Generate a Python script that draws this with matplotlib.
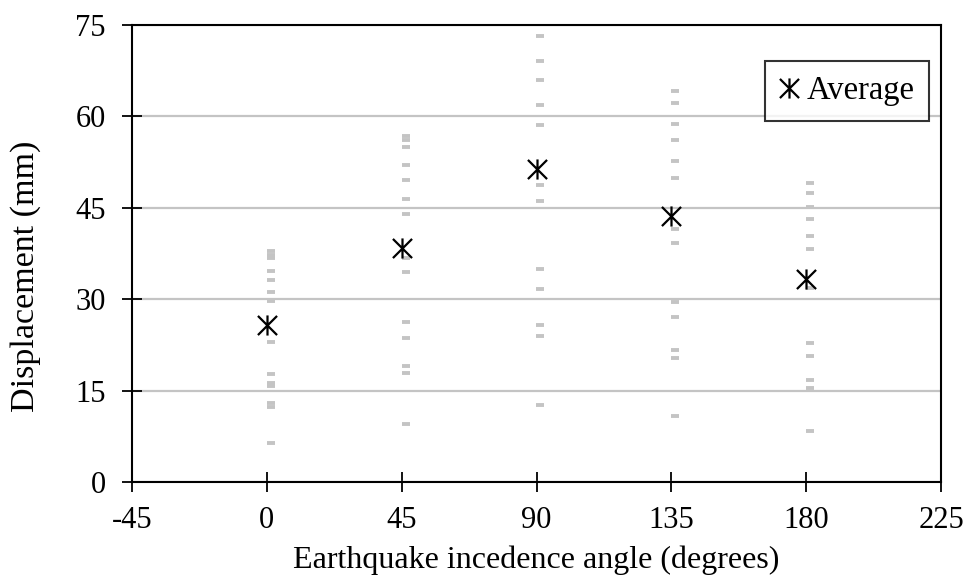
import matplotlib
matplotlib.use("Agg")
import matplotlib.pyplot as plt
from matplotlib.path import Path

angles = [0, 45, 90, 135, 180]
average = [25.7, 38.4, 51.4, 43.6, 33.3]

disp_0 = [37.9, 37.3, 36.7, 34.6, 33.1, 31.2, 29.7, 23.0, 17.7, 16.2, 15.8, 12.9, 12.3, 6.4]
disp_45 = [56.8, 56.1, 55.0, 52.0, 49.6, 46.4, 44.0, 36.7, 34.5, 26.3, 23.7, 19.1, 17.9, 9.6]
disp_90 = [73.2, 69.1, 66.0, 61.8, 58.6, 48.8, 46.1, 34.9, 31.6, 25.8, 24.0, 12.6]
disp_135 = [64.2, 62.2, 58.8, 56.1, 52.7, 49.9, 41.5, 39.2, 29.5, 27.0, 21.7, 20.4, 10.8]
disp_180 = [49.1, 47.5, 45.1, 43.1, 40.3, 38.2, 31.9, 22.8, 20.6, 16.7, 15.5, 8.3]
displacements = [disp_0, disp_45, disp_90, disp_135, disp_180]

x_ticks = [-45, 0, 45, 90, 135, 180, 225]
y_ticks = [0, 15, 30, 45, 60, 75]

plt.rcParams['font.family'] = ['Liberation Serif', 'DejaVu Serif']

fig = plt.figure(figsize=(9.7, 5.88), dpi=100)
ax = fig.add_axes([132/970, 1 - 482/588, (941 - 132)/970, (482 - 25)/588])

for a, vals in zip(angles, displacements):
    ax.plot([a + 1.3] * len(vals), vals, linestyle='none', marker='_',
            markersize=6, markeredgewidth=2.8, color='#c4c4c4', zorder=2)

star = Path([(0, -1), (0, 1), (-0.95, -0.95), (0.95, 0.95), (-0.95, 0.95), (0.95, -0.95)],
            [Path.MOVETO, Path.LINETO, Path.MOVETO, Path.LINETO, Path.MOVETO, Path.LINETO])
ax.plot(angles, average, linestyle='none', marker=star, markersize=14.5,
        markeredgewidth=1.6, color='black', label='Average', zorder=4)

ax.set_xlim(-45, 225)
ax.set_ylim(0, 75)
ax.set_xticks(x_ticks)
ax.set_yticks(y_ticks)
ax.set_xticklabels([str(v) for v in x_ticks])
ax.set_yticklabels([str(v) for v in y_ticks])
ax.tick_params(axis='x', direction='inout', length=14, width=1.3, labelsize=22,
               colors='black', pad=10)
ax.tick_params(axis='y', direction='inout', length=14, width=1.3, labelsize=22,
               colors='black', pad=12)
ax.grid(axis='y', color='#c4c4c4', linewidth=1.6)
ax.set_axisbelow(True)
for s in ax.spines.values():
    s.set_linewidth(1.5)
    s.set_color('black')

ax.set_xlabel('Earthquake incedence angle (degrees)', fontsize=23, labelpad=8)
ax.set_ylabel('Displacement (mm)', fontsize=24.5)
ax.yaxis.set_label_coords(-0.113, 0.449)

leg = ax.legend(loc='upper right', bbox_to_anchor=(0.985, 0.921), fontsize=23.5,
                frameon=True, fancybox=False, handlelength=0.55, handletextpad=0.25,
                borderpad=0.45, borderaxespad=0.0)
leg.get_frame().set_edgecolor('black')
leg.get_frame().set_linewidth(1.5)

fig.savefig('out.png', dpi=100)
